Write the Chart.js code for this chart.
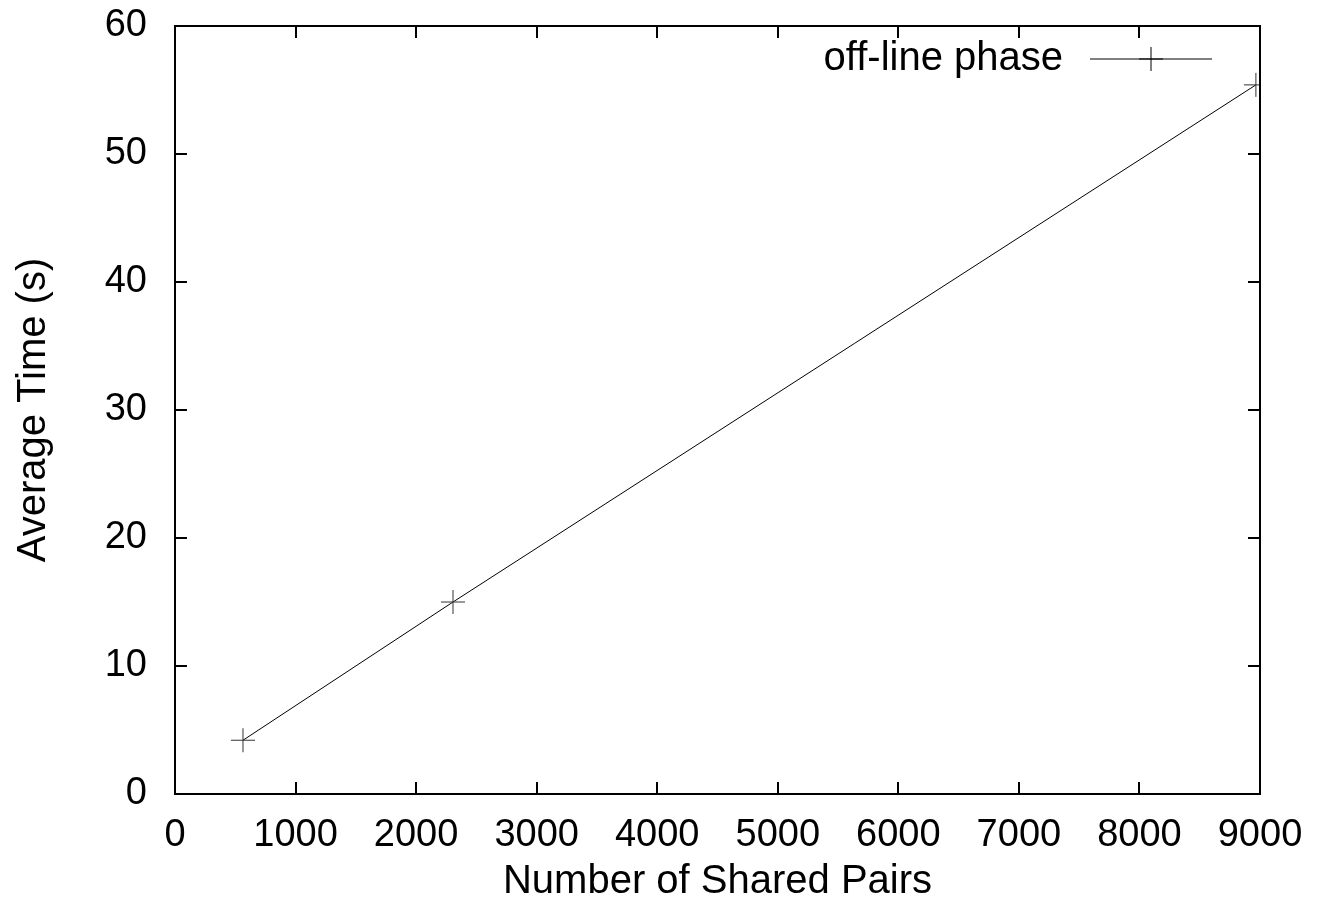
<!DOCTYPE html>
<html>
<head>
<meta charset="utf-8">
<script src="https://cdn.jsdelivr.net/npm/chart.js@4/dist/chart.umd.min.js"></script>
<style>
    body { margin: 0; background: white; }
    #wrap { width: 1319px; height: 914px; position: relative; }
</style>
</head>
<body>
<div id="wrap"><canvas id="myChart"></canvas></div>
<script>
// values
const sharedPairs = [564, 2306, 8966];
const avgTime = [4.2, 15.0, 55.4];
const seriesLabel = 'off-line phase';
const xTicks = [0, 1000, 2000, 3000, 4000, 5000, 6000, 7000, 8000, 9000];
const yTicks = [0, 10, 20, 30, 40, 50, 60];

const fontFamily = '"Liberation Sans", Arial, sans-serif';

// box round the plot area plus gnuplot style inward ticks on all four sides
const frameTicks = {
    id: 'frameTicks',
    afterDraw: (chart) => {
        const ctx = chart.ctx;
        const area = chart.chartArea;
        const xs = chart.scales.x;
        const ys = chart.scales.y;
        const len = 12;
        ctx.save();
        ctx.strokeStyle = '#000';
        ctx.lineWidth = 2;
        ctx.strokeRect(area.left, area.top, area.right - area.left, area.bottom - area.top);
        ctx.beginPath();
        xTicks.forEach(v => {
            const px = Math.round(xs.getPixelForValue(v));
            if (px <= area.left + 1 || px >= area.right - 1) return;
            ctx.moveTo(px, area.bottom);
            ctx.lineTo(px, area.bottom - len);
            ctx.moveTo(px, area.top);
            ctx.lineTo(px, area.top + len);
        });
        yTicks.forEach(v => {
            const py = Math.round(ys.getPixelForValue(v));
            if (py <= area.top + 1 || py >= area.bottom - 1) return;
            ctx.moveTo(area.left, py);
            ctx.lineTo(area.left + len, py);
            ctx.moveTo(area.right, py);
            ctx.lineTo(area.right - len, py);
        });
        ctx.stroke();
        ctx.restore();
    }
};

// legend: text on the left, line sample with the cross on the right
const sideLegend = {
    id: 'sideLegend',
    afterDraw: (chart) => {
        const ctx = chart.ctx;
        const area = chart.chartArea;
        const ds = chart.data.datasets[0];
        const y = area.top + 33;
        const lineStart = area.right - 170;
        const lineEnd = area.right - 48;
        const mid = (lineStart + lineEnd) / 2;
        ctx.save();
        ctx.fillStyle = '#000';
        ctx.font = '40px ' + fontFamily;
        ctx.textAlign = 'right';
        ctx.textBaseline = 'middle';
        ctx.fillText(ds.label, area.right - 197, y);
        ctx.strokeStyle = ds.borderColor;
        ctx.lineWidth = 1;
        ctx.beginPath();
        ctx.moveTo(lineStart, y);
        ctx.lineTo(lineEnd, y);
        ctx.moveTo(mid - 12, y);
        ctx.lineTo(mid + 12, y);
        ctx.moveTo(mid, y - 12);
        ctx.lineTo(mid, y + 12);
        ctx.stroke();
        ctx.restore();
    }
};

const configuration = {
    type: 'line',
    data: {
        datasets: [{
            label: seriesLabel,
            data: sharedPairs.map((x, i) => ({ x: x, y: avgTime[i] })),
            borderColor: '#000',
            borderWidth: 1,
            pointStyle: 'cross',
            pointRadius: 12,
            pointBorderWidth: 1,
            pointBorderColor: '#333',
            pointHoverRadius: 12,
            fill: false,
            tension: 0
        }]
    },
    options: {
        responsive: true,
        maintainAspectRatio: false,
        animation: false,
        layout: { padding: { top: 26, right: 59, left: 0, bottom: 0 } },
        plugins: {
            legend: { display: false },
            tooltip: { enabled: false }
        },
        scales: {
            x: {
                type: 'linear',
                min: 0,
                max: 9000,
                afterFit: (scale) => {
                    scale.height = 120;
                    scale.paddingLeft = 0;
                    scale.paddingRight = 0;
                },
                afterBuildTicks: (scale) => { scale.ticks = xTicks.map(v => ({ value: v })); },
                grid: { display: false, drawTicks: false },
                border: { display: false },
                ticks: {
                    color: '#000',
                    padding: 19,
                    maxRotation: 0,
                    autoSkip: false,
                    font: { family: fontFamily, size: 38 },
                    callback: (v) => String(v)
                },
                title: {
                    display: true,
                    text: 'Number of Shared Pairs',
                    color: '#000',
                    font: { family: fontFamily, size: 40 },
                    padding: { top: 0, bottom: 8 }
                }
            },
            y: {
                min: 0,
                max: 60,
                afterFit: (scale) => {
                    scale.width = 175;
                    scale.paddingTop = 0;
                    scale.paddingBottom = 0;
                },
                afterBuildTicks: (scale) => { scale.ticks = yTicks.map(v => ({ value: v })); },
                grid: { display: false, drawTicks: false },
                border: { display: false },
                ticks: {
                    color: '#000',
                    padding: 28,
                    autoSkip: false,
                    font: { family: fontFamily, size: 38 },
                    callback: (v) => String(v)
                },
                title: {
                    display: true,
                    text: 'Average Time (s)',
                    color: '#000',
                    font: { family: fontFamily, size: 40 },
                    padding: { top: 10, bottom: 0 }
                }
            }
        }
    },
    plugins: [frameTicks, sideLegend]
};

document.addEventListener('DOMContentLoaded', () => {
    new Chart(document.getElementById('myChart'), configuration);
});
</script>
</body>
</html>
